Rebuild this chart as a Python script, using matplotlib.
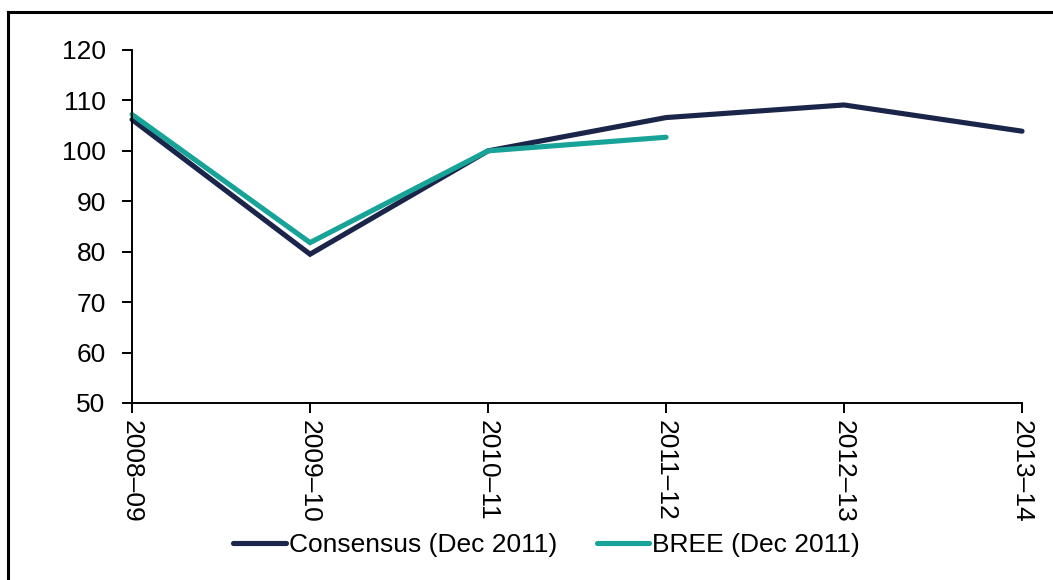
import matplotlib
matplotlib.use("Agg")
import matplotlib.pyplot as plt
from matplotlib.lines import Line2D

plt.rcParams["font.family"] = ["Liberation Sans", "DejaVu Sans"]

years = ["2008–09", "2009–10", "2010–11", "2011–12", "2012–13", "2013–14"]
consensus = [106.2, 79.5, 100.0, 106.6, 109.1, 103.9]
bree = [107.2, 81.8, 100.0, 102.7]

NAVY = "#1b2449"
TEAL = "#17a398"

fig = plt.figure(figsize=(10.53, 5.80), dpi=100)
ax = fig.add_axes([0.1254, 0.3052, 0.8452, 0.6086])

xi = list(range(len(years)))
ax.plot(xi, consensus, color=NAVY, lw=3.7, solid_capstyle="round",
        solid_joinstyle="miter", label="Consensus (Dec 2011)", clip_on=False)
ax.plot(xi[:len(bree)], bree, color=TEAL, lw=3.7, solid_capstyle="round",
        solid_joinstyle="miter", label="BREE (Dec 2011)", clip_on=False)

ax.set_xlim(0, len(years) - 1)
ax.set_ylim(50, 120)
ax.set_yticks(range(50, 121, 10))
ax.set_xticks(xi)
ax.set_xticklabels(years, rotation=270)
for s in ("top", "right"):
    ax.spines[s].set_visible(False)
for s in ("left", "bottom"):
    ax.spines[s].set_linewidth(1.4)
ax.tick_params(axis="both", direction="out", length=7, width=1.4,
               labelsize=19)
ax.tick_params(axis="y", pad=12)
ax.tick_params(axis="x", pad=5)

fig.legend(loc="center", bbox_to_anchor=(0.519, 0.06), ncol=2,
           frameon=False, fontsize=19, handlelength=2.0,
           handletextpad=0.1, columnspacing=1.5)

# rahmen (nur links/oben sichtbar, Rest abgeschnitten)
fig.add_artist(Line2D([0.0076, 0.0076], [0.0, 0.979], color="black",
                      lw=2.2, transform=fig.transFigure))
fig.add_artist(Line2D([0.0076, 1.0], [0.979, 0.979], color="black",
                      lw=2.2, transform=fig.transFigure))

fig.savefig("out.png", dpi=100)
